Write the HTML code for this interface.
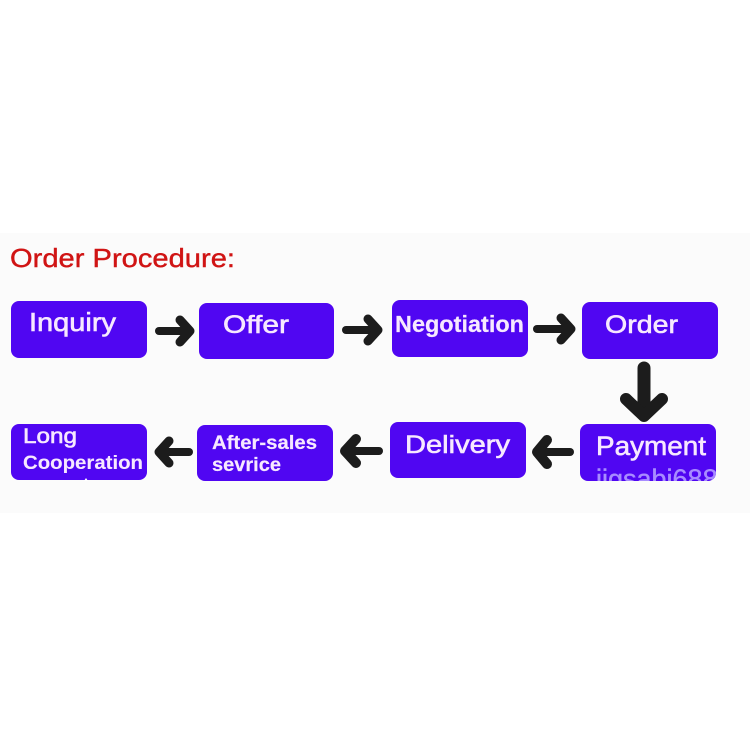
<!DOCTYPE html>
<html>
<head>
<meta charset="utf-8">
<style>
html,body{margin:0;padding:0;background:#ffffff;}
body{width:750px;height:750px;overflow:hidden;}
svg{display:block;}
</style>
</head>
<body>
<svg width="750" height="750" viewBox="0 0 750 750" xmlns="http://www.w3.org/2000/svg">
  <defs>
    <clipPath id="payclip"><rect x="580" y="424" width="136" height="57" rx="8"/></clipPath>
  </defs>
  <rect x="0" y="0" width="750" height="750" fill="#ffffff"/>
  <rect x="0" y="233" width="750" height="280" fill="#fbfbfb"/>

  <!-- Title -->
  <text x="10" y="267" font-family="Liberation Sans, Arial, sans-serif" font-size="26" fill="#d01414" stroke="#d01414" stroke-width="0.4" textLength="225" lengthAdjust="spacingAndGlyphs">Order Procedure:</text>

  <!-- Boxes -->
  <g fill="#5006f2">
    <rect x="11" y="301" width="136" height="57" rx="8"/>
    <rect x="199" y="303" width="135" height="56" rx="8"/>
    <rect x="392" y="300" width="136" height="57" rx="8"/>
    <rect x="582" y="302" width="136" height="57" rx="8"/>
    <rect x="11" y="424" width="136" height="56" rx="8"/>
    <rect x="197" y="425" width="136" height="56" rx="8"/>
    <rect x="390" y="422" width="136" height="56" rx="8"/>
    <rect x="580" y="424" width="136" height="57" rx="8"/>
  </g>

  <!-- Labels -->
  <g font-family="Liberation Sans, Arial, sans-serif" fill="#f7e8ff" stroke="#f7e8ff" stroke-width="0.6">
    <text x="29" y="331" font-size="26" textLength="87" lengthAdjust="spacingAndGlyphs">Inquiry</text>
    <text x="223" y="333" font-size="25" textLength="66" lengthAdjust="spacingAndGlyphs">Offer</text>
    <text x="395" y="332" font-size="23" font-weight="bold" stroke-width="0.2" textLength="129" lengthAdjust="spacingAndGlyphs">Negotiation</text>
    <text x="605" y="333" font-size="25" textLength="73" lengthAdjust="spacingAndGlyphs">Order</text>

    <text x="23" y="443" font-size="21" textLength="54" lengthAdjust="spacingAndGlyphs">Long</text>
    <text x="23" y="469" font-size="19" font-weight="bold" stroke-width="0.1" textLength="120" lengthAdjust="spacingAndGlyphs">Cooperation</text>
    <text x="212" y="449" font-size="19" font-weight="bold" stroke-width="0.2" textLength="105" lengthAdjust="spacingAndGlyphs">After-sales</text>
    <text x="212" y="471" font-size="19" font-weight="bold" stroke-width="0.2" textLength="69" lengthAdjust="spacingAndGlyphs">sevrice</text>
    <text x="405" y="453" font-size="25" textLength="105" lengthAdjust="spacingAndGlyphs">Delivery</text>
    <text x="596" y="455" font-size="27" textLength="110" lengthAdjust="spacingAndGlyphs">Payment</text>
  </g>
  <g clip-path="url(#payclip)">
    <text x="596" y="488" font-family="Liberation Sans, Arial, sans-serif" font-size="27" fill="#a88cff" stroke="#a88cff" stroke-width="0.4">jigsabi688</text>
  </g>
  <path d="M84 481 L86 478 L88 481 Z" fill="#ffffff"/>

  <!-- Arrows -->
  <g stroke="#1c1c1c" stroke-linecap="round" stroke-linejoin="round" fill="none">
    <line x1="159" y1="331" x2="186" y2="331" stroke-width="8"/>
    <polyline points="180,320 190,331 180,342" stroke-width="9"/>

    <line x1="346" y1="330" x2="374" y2="330" stroke-width="8"/>
    <polyline points="368,319 378,330 368,341" stroke-width="9"/>

    <line x1="537" y1="329" x2="567" y2="329" stroke-width="8"/>
    <polyline points="561,318 571,329 561,340" stroke-width="9"/>

    <line x1="644" y1="368" x2="644" y2="410" stroke-width="13"/>
    <polyline points="626,399 644,416 662,399" stroke-width="12"/>

    <line x1="189" y1="452" x2="162" y2="452" stroke-width="8"/>
    <polyline points="169,441 159,452 169,463" stroke-width="9"/>

    <line x1="379" y1="451" x2="350" y2="451" stroke-width="8"/>
    <polyline points="356,439 345,451 356,463" stroke-width="10"/>

    <line x1="570" y1="452" x2="541" y2="452" stroke-width="8"/>
    <polyline points="547,440 537,452 547,464" stroke-width="10"/>
  </g>
</svg>
</body>
</html>
